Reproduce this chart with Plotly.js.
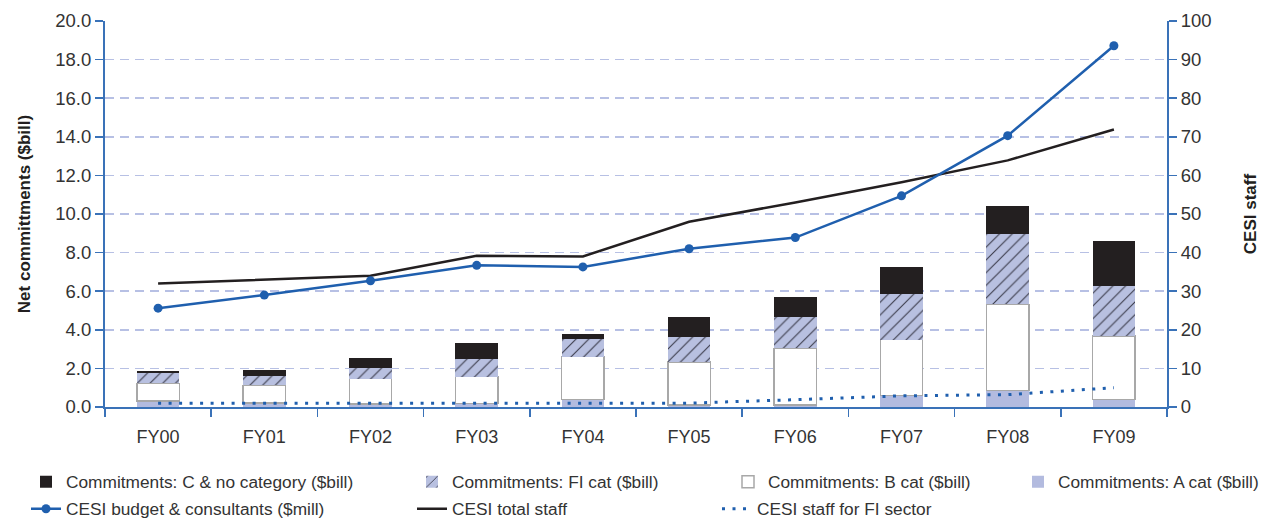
<!DOCTYPE html>
<html><head><meta charset="utf-8">
<script src="https://cdn.plot.ly/plotly-3.0.1.min.js"></script>
<style>html,body{margin:0;padding:0;background:#fff}#chart{width:1267px;height:519px}</style>
</head><body><div id="chart"></div>
<script>
const years = ['FY00','FY01','FY02','FY03','FY04','FY05','FY06','FY07','FY08','FY09'];
const commitA  = [0.30, 0.20, 0.15, 0.17, 0.38, 0.10, 0.10, 0.60, 0.85, 0.40];
const commitB  = [0.93, 0.92, 1.32, 1.40, 2.23, 2.22, 2.94, 2.89, 4.47, 3.28];
const commitFI = [0.51, 0.49, 0.55, 0.92, 0.91, 1.32, 1.64, 2.36, 3.66, 2.59];
const commitC  = [0.13, 0.31, 0.52, 0.83, 0.28, 1.04, 1.02, 1.40, 1.43, 2.33];
const budget     = [25.6, 29.0, 32.7, 36.7, 36.3, 41.0, 43.9, 54.7, 70.3, 93.6];
const totalStaff = [32.0, 33.0, 34.0, 39.2, 39.0, 48.0, 53.0, 58.2, 63.9, 71.9];
const fiStaff    = [1, 1, 1, 1, 1, 1, 1.9, 2.9, 3.2, 5.0];

const FONT = "'Liberation Sans', Arial, sans-serif";
const TXT = '#333333';
const AXC = '#3a72b8';
const BLUE = '#1f5fae';
const LAV = '#b3bbdf';

const traces = [
  {type:'bar', x:years, y:commitA, name:'Commitments: A cat ($bill)', width:0.4,
   marker:{color:LAV, line:{width:0}}, legend:'legend4'},
  {type:'bar', x:years, y:commitB, name:'Commitments: B cat ($bill)', width:0.4,
   marker:{color:'#ffffff', line:{color:'#a8a8a8', width:1.5}}, legend:'legend3'},
  {type:'bar', x:years, y:commitFI, name:'Commitments: FI cat ($bill)', width:0.4,
   marker:{color:'#b8c0e0', line:{width:0},
     pattern:{shape:'/', fgcolor:'#3a3a4a', bgcolor:'#b8c0e0', size:9, solidity:0.12}}, legend:'legend2'},
  {type:'bar', x:years, y:commitC, name:'Commitments: C & no category ($bill)', width:0.4,
   marker:{color:'#231f20', line:{width:0}}, legend:'legend', showlegend:true},
  {type:'scatter', mode:'lines', x:years, y:totalStaff, yaxis:'y2', name:'CESI total staff',
   line:{color:'#231f20', width:2.5}, legend:'legend6'},
  {type:'scatter', mode:'lines+markers', x:years, y:budget, yaxis:'y2', name:'CESI budget & consultants ($mill)',
   line:{color:BLUE, width:2.5}, marker:{color:BLUE, size:9}, legend:'legend5'},
  {type:'scatter', mode:'lines', x:years, y:fiStaff, yaxis:'y2', name:'CESI staff for FI sector',
   line:{color:BLUE, width:3, dash:'3px,7.5px'}, legend:'legend7'}
];

const L = 105, R = 1167, T = 21, B = 407;
const px = v => (v - L) / (R - L);
const py = v => (B - v) / (B - T);
function leg(xpx, ypx){
  return {x:px(xpx), y:py(ypx), xanchor:'left', yanchor:'middle', orientation:'h',
    bgcolor:'rgba(0,0,0,0)', borderwidth:0, font:{family:FONT, size:17.3, color:TXT}};
}

const layout = {
  width:1267, height:519,
  showlegend:true,
  margin:{l:L, r:1267-R, t:T, b:519-B, pad:0, autoexpand:false},
  paper_bgcolor:'#ffffff', plot_bgcolor:'#ffffff',
  barmode:'stack', bargap:0.6,
  font:{family:FONT, size:18, color:TXT},
  xaxis:{type:'category', range:[-0.5, 9.5], showline:true, linecolor:AXC, linewidth:2,
    ticks:'outside', tickson:'boundaries', ticklen:8, tickwidth:1.5, tickcolor:AXC,
    ticklabelstandoff:12,
    showgrid:false, zeroline:false, tickfont:{family:FONT, size:18, color:TXT}, fixedrange:true},
  yaxis:{range:[0,20], dtick:2, tickformat:'.1f', showline:true, linecolor:AXC, linewidth:2,
    ticks:'outside', ticklen:8, tickwidth:1.5, tickcolor:AXC,
    showgrid:true, gridcolor:'#b7c0e4', gridwidth:1.5, griddash:'9px,6px', zeroline:false,
    tickfont:{family:FONT, size:18.5, color:TXT},
    title:{text:'Net committments ($bill)', font:{family:FONT, size:17, color:'#231f20', weight:700}, standoff:20}},
  yaxis2:{range:[0,100], dtick:10, overlaying:'y', side:'right', showline:true, linecolor:AXC, linewidth:2,
    ticks:'outside', ticklen:8, tickwidth:1.5, tickcolor:AXC, showgrid:false, zeroline:false,
    tickfont:{family:FONT, size:18.5, color:TXT},
    title:{text:'CESI staff', font:{family:FONT, size:17, color:'#231f20', weight:700}, standoff:34}},
  legend: leg(26, 482),
  legend2: leg(412, 482),
  legend3: leg(728, 482),
  legend4: leg(1018, 482),
  legend5: leg(26, 509),
  legend6: leg(412, 509),
  legend7: leg(717, 509)
};

Plotly.newPlot('chart', traces, layout, {displayModeBar:false, staticPlot:true});
</script></body></html>
